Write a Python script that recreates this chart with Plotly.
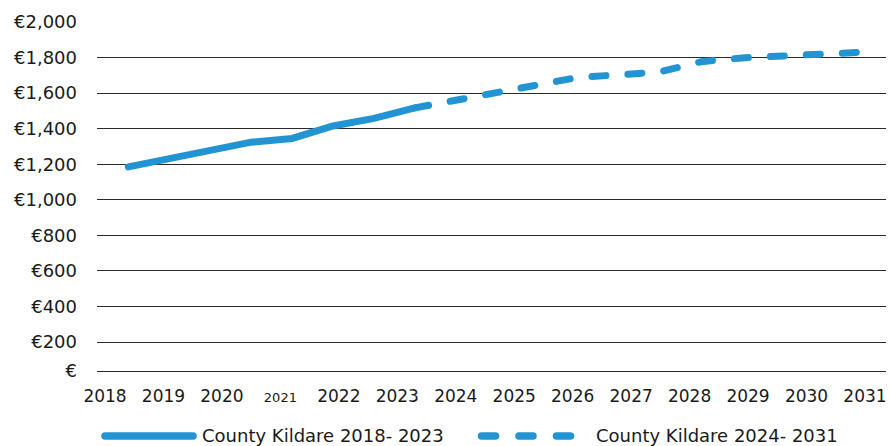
import plotly.graph_objects as go

# Average monthly rent, County Kildare (EUR)
years_actual = [2018.4, 2019.1, 2019.8, 2020.5, 2021.2, 2021.9, 2022.6, 2023.3]
rent_actual = [1185, 1230, 1277, 1324, 1345, 1415, 1458, 1517]

years_forecast = [2023.3, 2024.0, 2024.7, 2025.4, 2026.1, 2026.8,
                  2027.5, 2028.2, 2028.9, 2029.6, 2030.3, 2031.0]
rent_forecast = [1517, 1560, 1603, 1645, 1689, 1703,
                 1720, 1777, 1798, 1809, 1821, 1831]

year_ticks = list(range(2018, 2032))
year_labels = [("<span style='font-size:13px'>%d</span>" % y) if y == 2021 else str(y)
               for y in year_ticks]

axis_floor = 37
rent_ticks = [axis_floor] + list(range(200, 2001, 200))
rent_labels = ["€"] + ["€{:,}".format(v) for v in range(200, 2001, 200)]

series_names = ["County Kildare 2018- 2023", "County Kildare 2024- 2031"]

BLUE = "#2394d3"
INK = "#1a1a1a"
GRID = "#2b2b2b"
FONT = "DejaVu Sans, sans-serif"

fig = go.Figure()
fig.add_trace(go.Scatter(x=years_actual, y=rent_actual, mode="lines",
                         line=dict(color=BLUE, width=7), name=series_names[0],
                         showlegend=False))
fig.add_trace(go.Scatter(x=years_forecast, y=rent_forecast, mode="lines",
                         line=dict(color=BLUE, width=7, dash="14px,22px"),
                         name=series_names[1], showlegend=False))

# hand-drawn legend under the axis
legend_y = -0.186
fig.add_shape(type="line", xref="paper", yref="paper",
              x0=0.0101, x1=0.1217, y0=legend_y, y1=legend_y,
              line=dict(color=BLUE, width=7.5))
fig.add_shape(type="line", xref="paper", yref="paper",
              x0=0.4873, x1=0.6014, y0=legend_y, y1=legend_y,
              line=dict(color=BLUE, width=7.5, dash="14px,23.5px"))
fig.add_annotation(xref="paper", yref="paper", x=0.1305, y=legend_y,
                   xanchor="left", yanchor="middle", showarrow=False,
                   text=series_names[0], font=dict(size=18, color=INK, family=FONT))
fig.add_annotation(xref="paper", yref="paper", x=0.6299, y=legend_y,
                   xanchor="left", yanchor="middle", showarrow=False,
                   text=series_names[1], font=dict(size=18, color=INK, family=FONT))

fig.update_layout(
    width=889, height=446,
    margin=dict(l=97, r=3, t=22, b=75),
    paper_bgcolor="white", plot_bgcolor="white",
    font=dict(family=FONT, size=17, color=INK),
    showlegend=False,
)
fig.update_xaxes(range=[2017.863, 2031.36], tickmode="array",
                 tickvals=year_ticks, ticktext=year_labels,
                 showgrid=False, zeroline=False, showline=True,
                 linecolor=GRID, linewidth=1, ticks="",
                 ticklabelstandoff=10,
                 tickfont=dict(size=17, color=INK, family=FONT))
fig.update_yaxes(range=[axis_floor, 2000], tickmode="array",
                 tickvals=rent_ticks, ticktext=rent_labels,
                 showgrid=True, gridcolor=GRID, gridwidth=1,
                 zeroline=False, showline=False, ticks="",
                 ticklabelstandoff=19,
                 tickfont=dict(size=18, color=INK, family=FONT))

round_caps = """
(function(){
  function caps(){
    document.querySelectorAll('.js-line, .shapelayer path').forEach(function(p){
      p.style.strokeLinecap = 'round';
    });
  }
  caps();
  var gd = document.getElementById('{plot_id}');
  if (gd && gd.on) { gd.on('plotly_afterplot', caps); }
  setTimeout(caps, 0); setTimeout(caps, 200);
})();
"""

fig.write_html("out.html", post_script=round_caps)
